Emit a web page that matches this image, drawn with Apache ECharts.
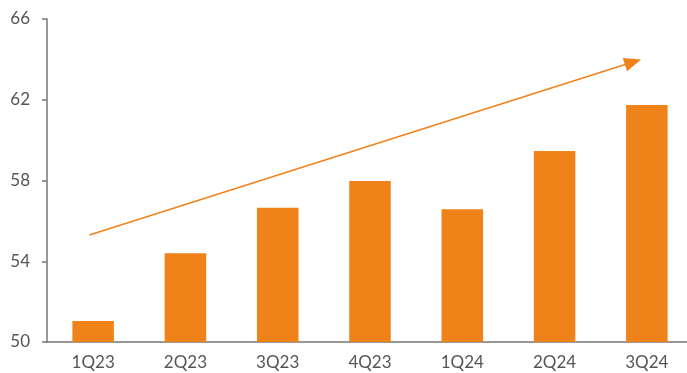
<!DOCTYPE html>
<html>
<head>
<meta charset="utf-8">
<style>
  html, body { margin: 0; padding: 0; background: #fff; overflow: hidden; }
  #chart { width: 693px; height: 373px; }
</style>
<script src="https://cdn.jsdelivr.net/npm/echarts@6/dist/echarts.min.js"></script>
</head>
<body>
<div id="chart"></div>
<script>
  var quarters = ['1Q23', '2Q23', '3Q23', '4Q23', '1Q24', '2Q24', '3Q24'];
  var values = [51.04, 54.4, 56.65, 57.97, 56.58, 59.46, 61.74];
  var yTicks = [50, 54, 58, 62, 66];
  // trend arrow, in (category index, value)
  var arrowStart = [-0.04, 55.3];
  var arrowEnd = [5.85, 63.87];

  var orange = '#F0821A';
  var textGray = '#555';

  var chart = echarts.init(document.getElementById('chart'));
  chart.setOption({
    backgroundColor: '#fff',
    animation: false,
    grid: { left: 47, right: 0, top: 19, bottom: 31, containLabel: false },
    xAxis: [{
      type: 'category',
      data: quarters,
      axisTick: { show: false },
      axisLine: { onZero: false, lineStyle: { color: '#777', width: 1.5 } },
      axisLabel: { color: textGray, fontFamily: 'Lato', fontSize: 17, margin: 12 }
    }, {
      type: 'value',
      min: -0.5,
      max: 6.5,
      show: false
    }],
    yAxis: [{
      type: 'value',
      min: yTicks[0],
      max: yTicks[yTicks.length - 1],
      interval: 4,
      axisLine: { show: true, onZero: false, lineStyle: { color: '#777', width: 1.5 } },
      axisTick: { show: true, length: 5, lineStyle: { color: '#777', width: 1.5 } },
      splitLine: { show: false },
      axisLabel: { color: textGray, fontFamily: 'Lato', fontSize: 17, margin: 17 }
    }, {
      type: 'value',
      min: yTicks[0],
      max: yTicks[yTicks.length - 1],
      show: false
    }],
    series: [{
      type: 'bar',
      data: values,
      barWidth: '45%',
      itemStyle: { color: orange },
      silent: true
    }, {
      type: 'line',
      xAxisIndex: 1,
      yAxisIndex: 1,
      data: [],
      silent: true,
      markLine: {
        silent: true,
        symbol: ['none', 'triangle'],
        symbolSize: [14, 17],
        label: { show: false },
        lineStyle: { color: orange, width: 1.5, type: 'solid' },
        emphasis: { disabled: true },
        data: [[{ coord: arrowStart }, { coord: arrowEnd }]]
      }
    }]
  });
</script>
</body>
</html>
